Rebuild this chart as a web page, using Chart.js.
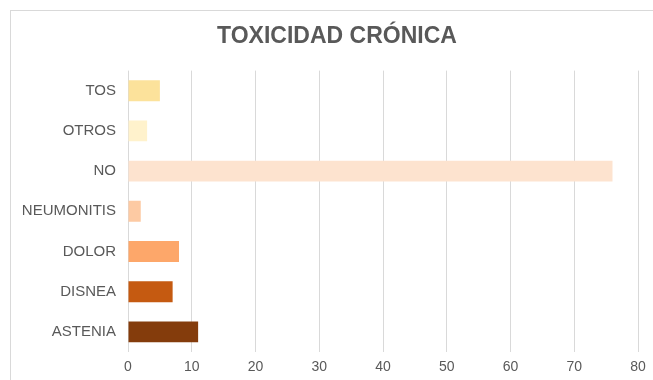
<!DOCTYPE html>
<html>
<head>
<meta charset="utf-8">
<script src="https://cdn.jsdelivr.net/npm/chart.js@4/dist/chart.umd.min.js"></script>
<style>
    html, body { margin: 0; padding: 0; background: #fff; }
    #frame {
        position: absolute; left: 10px; top: 10px; width: 660px; height: 380px;
        border-top: 1px solid #d9d9d9; border-left: 1px solid #d9d9d9;
    }
    #wrap { position: absolute; left: 0; top: 0; width: 653px; height: 380px; }
</style>
</head>
<body>
<div id="frame"></div>
<div id="wrap"><canvas id="toxChart" width="653" height="380"></canvas></div>
<script>
// datos
const categorias = ['TOS', 'OTROS', 'NO', 'NEUMONITIS', 'DOLOR', 'DISNEA', 'ASTENIA']
const pacientes = [5, 3, 76, 2, 8, 7, 11]
const colores = ['#fce29b', '#fff2cc', '#fde3cf', '#fdcaa3', '#fda76a', '#c55a11', '#843c0c']
const ticksX = [0, 10, 20, 30, 40, 50, 60, 70, 80]

const gris = '#595959'
const fuente = '"Liberation Sans", Arial, sans-serif'

// el título original está un poco a la derecha del centro
const moverTitulo = {
    id: 'moverTitulo',
    afterLayout(chart) {
        const t = chart.titleBlock
        if (t) { t.left += 13; t.right += 13 }
    }
}

const ctx = document.getElementById('toxChart').getContext('2d')

new Chart(ctx, {
    type: 'bar',
    data: {
        labels: categorias,
        datasets: [{
            label: 'Toxicidad crónica',
            data: pacientes,
            backgroundColor: colores,
            borderWidth: 0,
            categoryPercentage: 1,
            barPercentage: 0.52
        }]
    },
    options: {
        indexAxis: 'y',
        responsive: false,
        animation: false,
        layout: {
            padding: { left: 10, right: 15, top: 23, bottom: 0 }
        },
        plugins: {
            legend: { display: false },
            tooltip: { enabled: false },
            title: {
                display: true,
                text: 'TOXICIDAD CRÓNICA',
                color: gris,
                font: { family: fuente, size: 23, weight: 'bold' },
                padding: { top: 0, bottom: 20 }
            }
        },
        scales: {
            x: {
                min: ticksX[0],
                max: ticksX[ticksX.length - 1],
                afterBuildTicks: scale => { scale.ticks = ticksX.map(v => ({ value: v })) },
                afterFit: scale => { scale.height = 28 },
                grid: { color: '#d9d9d9', lineWidth: 1, drawTicks: false },
                border: { display: false },
                ticks: { color: gris, padding: 7, font: { family: fuente, size: 14 } }
            },
            y: {
                grid: { display: false, drawTicks: false },
                border: { display: false },
                afterFit: scale => { scale.width = 118 },
                ticks: { color: gris, padding: 12, font: { family: fuente, size: 15 } }
            }
        }
    },
    plugins: [moverTitulo]
})
</script>
</body>
</html>
